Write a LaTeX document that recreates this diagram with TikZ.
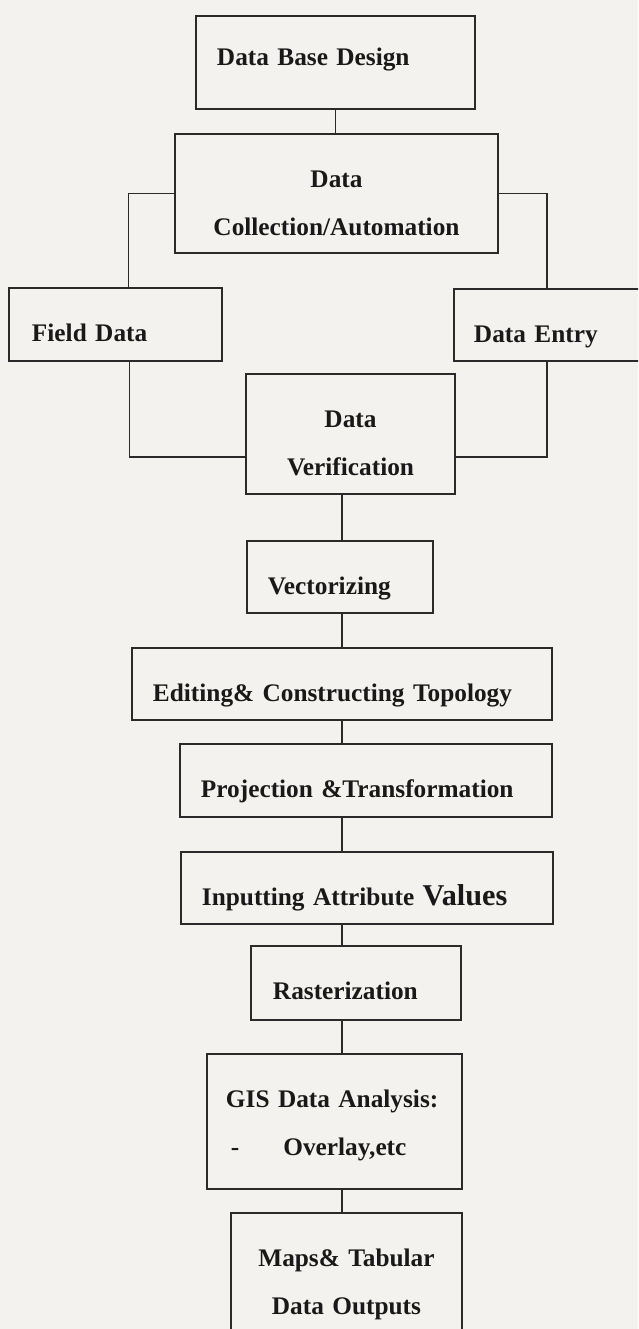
\documentclass[tikz,border=0pt]{standalone}
\usepackage{fontspec}
\setmainfont{Liberation Serif}
\definecolor{paper}{RGB}{243,242,238}
\definecolor{ink}{RGB}{42,42,42}

\tikzset{
	stage/.style={draw=ink, line width=1.4pt, fill=paper, anchor=north west,
		inner xsep=0.525cm, inner ysep=0pt, text height=1.35cm, align=left,
		text=black!90, font=\bfseries\fontsize{18}{34}\selectfont},
	link/.style={draw=ink, line width=1.4pt}
}

\begin{document}
\begin{tikzpicture}
		
		%Page
		\useasboundingbox (0,0) rectangle (15.95,-33.225);
		\fill[paper] (0,0) rectangle (15.95,-33.225);
		\clip (0,0) rectangle (15.95,-33.225);
		
		%Nodes of the collection part
		\node (dbDesign) at (4.875,-0.375) [stage, text width=5.925cm, text height=1.25cm, 
		text depth=1.075cm]{Data Base Design};
		
		\node (collection) at (4.35,-3.325) [stage, align=center, text width=7.025cm, 
		text depth=1.625cm]{Data\\Collection/Automation};
		
		\node (field) at (0.2,-7.175) [stage, inner xsep=0.575cm, text width=4.175cm, 
		text depth=0.475cm]{Field Data};
		
		\node (entry) at (11.325,-7.2) [stage, inner xsep=0.5cm, text width=3.65cm, 
		text depth=0.45cm]{Data Entry};
		
		\node (verification) at (6.125,-9.325) [stage, align=center, text width=4.175cm, 
		text depth=1.65cm]{Data\\Verification};
		
		%Nodes of the processing part
		\node (vectorizing) at (6.15,-13.5) [stage, text width=3.6cm, 
		text depth=0.45cm]{Vectorizing};
		
		\node (editing) at (3.275,-16.175) [stage, text width=9.45cm, 
		text depth=0.45cm]{Editing\& Constructing Topology};
		
		\node (projection) at (4.475,-18.575) [stage, text width=8.25cm, 
		text depth=0.475cm]{Projection \&Transformation};
		
		\node (inputting) at (4.5,-21.275) [stage, text width=8.25cm, 
		text depth=0.45cm]{Inputting Attribute {\fontsize{21.5}{34}\selectfont Values}};
		
		\node (raster) at (6.25,-23.625) [stage, inner xsep=0.55cm, text width=4.15cm, 
		text depth=0.5cm]{Rasterization};
		
		\node (analysis) at (5.15,-26.325) [stage, inner xsep=0.475cm, text width=5.425cm, 
		text depth=2.025cm]{GIS Data Analysis:\\\hspace*{0.125cm}-\hspace{1.1cm}Overlay,etc};
		
		\node (outputs) at (5.75,-30.3) [stage, align=center, text width=4.725cm, 
		text depth=2.05cm]{Maps\& Tabular\\Data Outputs};
		
		%Links of the collection part
		\draw[link] (dbDesign.south) -- (dbDesign.south |- collection.north);
		
		\draw[link] (collection.west) -| ([xshift=0.325cm]field.north);
		
		\draw[link] (collection.east) -| (entry.north);
		
		\draw[link] ([xshift=0.35cm]field.south) |- ([yshift=-0.575cm]verification.west);
		
		\draw[link] (entry.south) |- ([yshift=-0.575cm]verification.east);
		
		%Links along the main line
		\coordinate (spine) at (8.55,0);
		
		\draw[link] (verification.south -| spine) -- (vectorizing.north -| spine);
		
		\draw[link] (vectorizing.south -| spine) -- (editing.north -| spine);
		
		\draw[link] (editing.south -| spine) -- (projection.north -| spine);
		
		\draw[link] (projection.south -| spine) -- (inputting.north -| spine);
		
		\draw[link] (inputting.south -| spine) -- (raster.north -| spine);
		
		\draw[link] (raster.south -| spine) -- (analysis.north -| spine);
		
		\draw[link] (analysis.south -| spine) -- (outputs.north -| spine);
		
\end{tikzpicture}
\end{document}
